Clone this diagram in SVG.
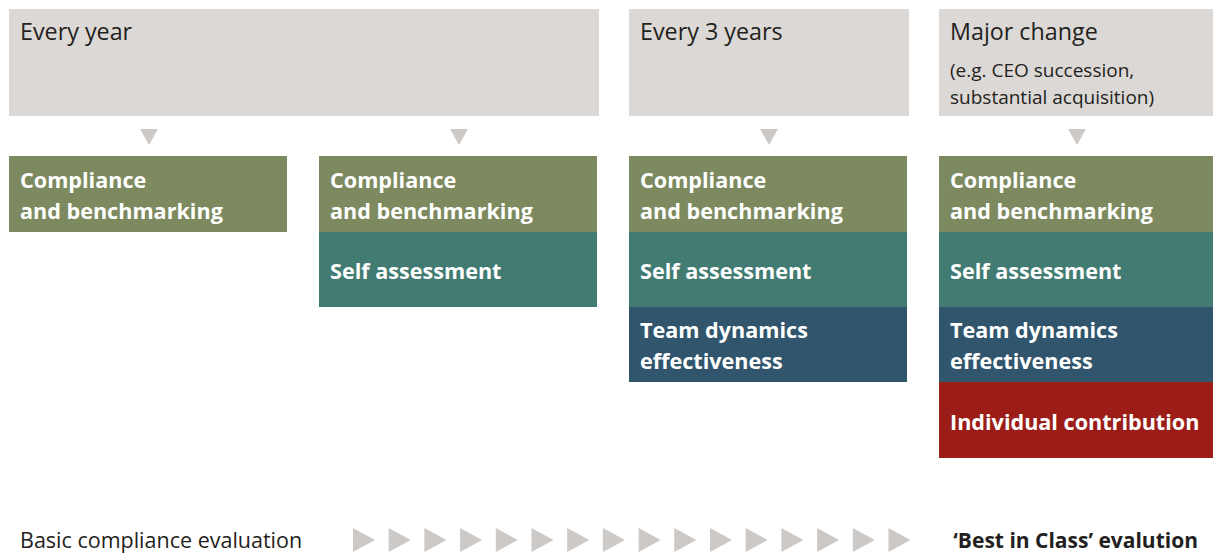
<svg xmlns="http://www.w3.org/2000/svg" width="1213" height="555" viewBox="0 0 1213 555">
<style>
.hdr{fill:#dcd8d5}
.tri{fill:#cdc9c6}
.green{fill:#7d8a5f}
.teal{fill:#417b72}
.navy{fill:#30556c}
.red{fill:#9c1d17}
.ht{font-family:"Open Sans","Liberation Sans",sans-serif;font-size:23.3px;fill:#231f20}
.hs{font-family:"Open Sans","Liberation Sans",sans-serif;font-size:19px;fill:#231f20}
.bt{font-family:"Open Sans","Liberation Sans",sans-serif;font-size:21.6px;font-weight:bold;fill:#ffffff}
.ft{font-family:"Open Sans","Liberation Sans",sans-serif;font-size:21.5px;fill:#231f20}
.fb{font-family:"Open Sans","Liberation Sans",sans-serif;font-size:21px;font-weight:bold;fill:#231f20}
</style>
<defs>
<polygon id="down" class="tri" points="-9,0 9,0 0,16"/>
<polygon id="right" class="tri" points="0,0 22,12 0,24"/>
</defs>
<rect width="1213" height="555" fill="#ffffff"/>

<g id="header-every-year">
<rect class="hdr" x="9" y="9" width="590" height="107"/>
<text class="ht" x="20" y="40">Every year</text>
</g>
<g id="header-every-3-years">
<rect class="hdr" x="629" y="9" width="280" height="107"/>
<text class="ht" x="640" y="40">Every 3 years</text>
</g>
<g id="header-major-change">
<rect class="hdr" x="939" y="9" width="274" height="107"/>
<text class="ht" x="950" y="40">Major change</text>
<text class="hs" x="950" y="77">(e.g. CEO succession,</text>
<text class="hs" x="950" y="104">substantial acquisition)</text>
</g>

<g id="connectors">
<use href="#down" x="149" y="129"/>
<use href="#down" x="459" y="129"/>
<use href="#down" x="769" y="129"/>
<use href="#down" x="1077" y="129"/>
</g>

<g id="col1">
<rect class="green" x="9" y="156" width="278" height="76"/>
<text class="bt" x="20" y="188">Compliance</text>
<text class="bt" x="20" y="219">and benchmarking</text>
</g>

<g id="col2">
<rect class="green" x="319" y="156" width="278" height="76"/>
<text class="bt" x="330" y="188">Compliance</text>
<text class="bt" x="330" y="219">and benchmarking</text>
<rect class="teal" x="319" y="232" width="278" height="75"/>
<text class="bt" x="330" y="279">Self assessment</text>
</g>

<g id="col3">
<rect class="green" x="629" y="156" width="278" height="76"/>
<text class="bt" x="640" y="188">Compliance</text>
<text class="bt" x="640" y="219">and benchmarking</text>
<rect class="teal" x="629" y="232" width="278" height="75"/>
<text class="bt" x="640" y="279">Self assessment</text>
<rect class="navy" x="629" y="307" width="278" height="75"/>
<text class="bt" x="640" y="338">Team dynamics</text>
<text class="bt" x="640" y="369">effectiveness</text>
</g>

<g id="col4">
<rect class="green" x="939" y="156" width="274" height="76"/>
<text class="bt" x="950" y="188">Compliance</text>
<text class="bt" x="950" y="219">and benchmarking</text>
<rect class="teal" x="939" y="232" width="274" height="75"/>
<text class="bt" x="950" y="279">Self assessment</text>
<rect class="navy" x="939" y="307" width="274" height="75"/>
<text class="bt" x="950" y="338">Team dynamics</text>
<text class="bt" x="950" y="369">effectiveness</text>
<rect class="red" x="939" y="382" width="274" height="76"/>
<text class="bt" x="950" y="430">Individual contribution</text>
</g>

<g id="scale">
<text class="ft" x="20" y="548">Basic compliance evaluation</text>
<use href="#right" x="353" y="528"/>
<use href="#right" x="388.7" y="528"/>
<use href="#right" x="424.4" y="528"/>
<use href="#right" x="460.1" y="528"/>
<use href="#right" x="495.8" y="528"/>
<use href="#right" x="531.5" y="528"/>
<use href="#right" x="567.2" y="528"/>
<use href="#right" x="602.9" y="528"/>
<use href="#right" x="638.6" y="528"/>
<use href="#right" x="674.3" y="528"/>
<use href="#right" x="710" y="528"/>
<use href="#right" x="745.7" y="528"/>
<use href="#right" x="781.4" y="528"/>
<use href="#right" x="817.1" y="528"/>
<use href="#right" x="852.8" y="528"/>
<use href="#right" x="888.5" y="528"/>
<text class="fb" x="1198" y="548" text-anchor="end">‘Best in Class’ evalution</text>
</g>
</svg>
